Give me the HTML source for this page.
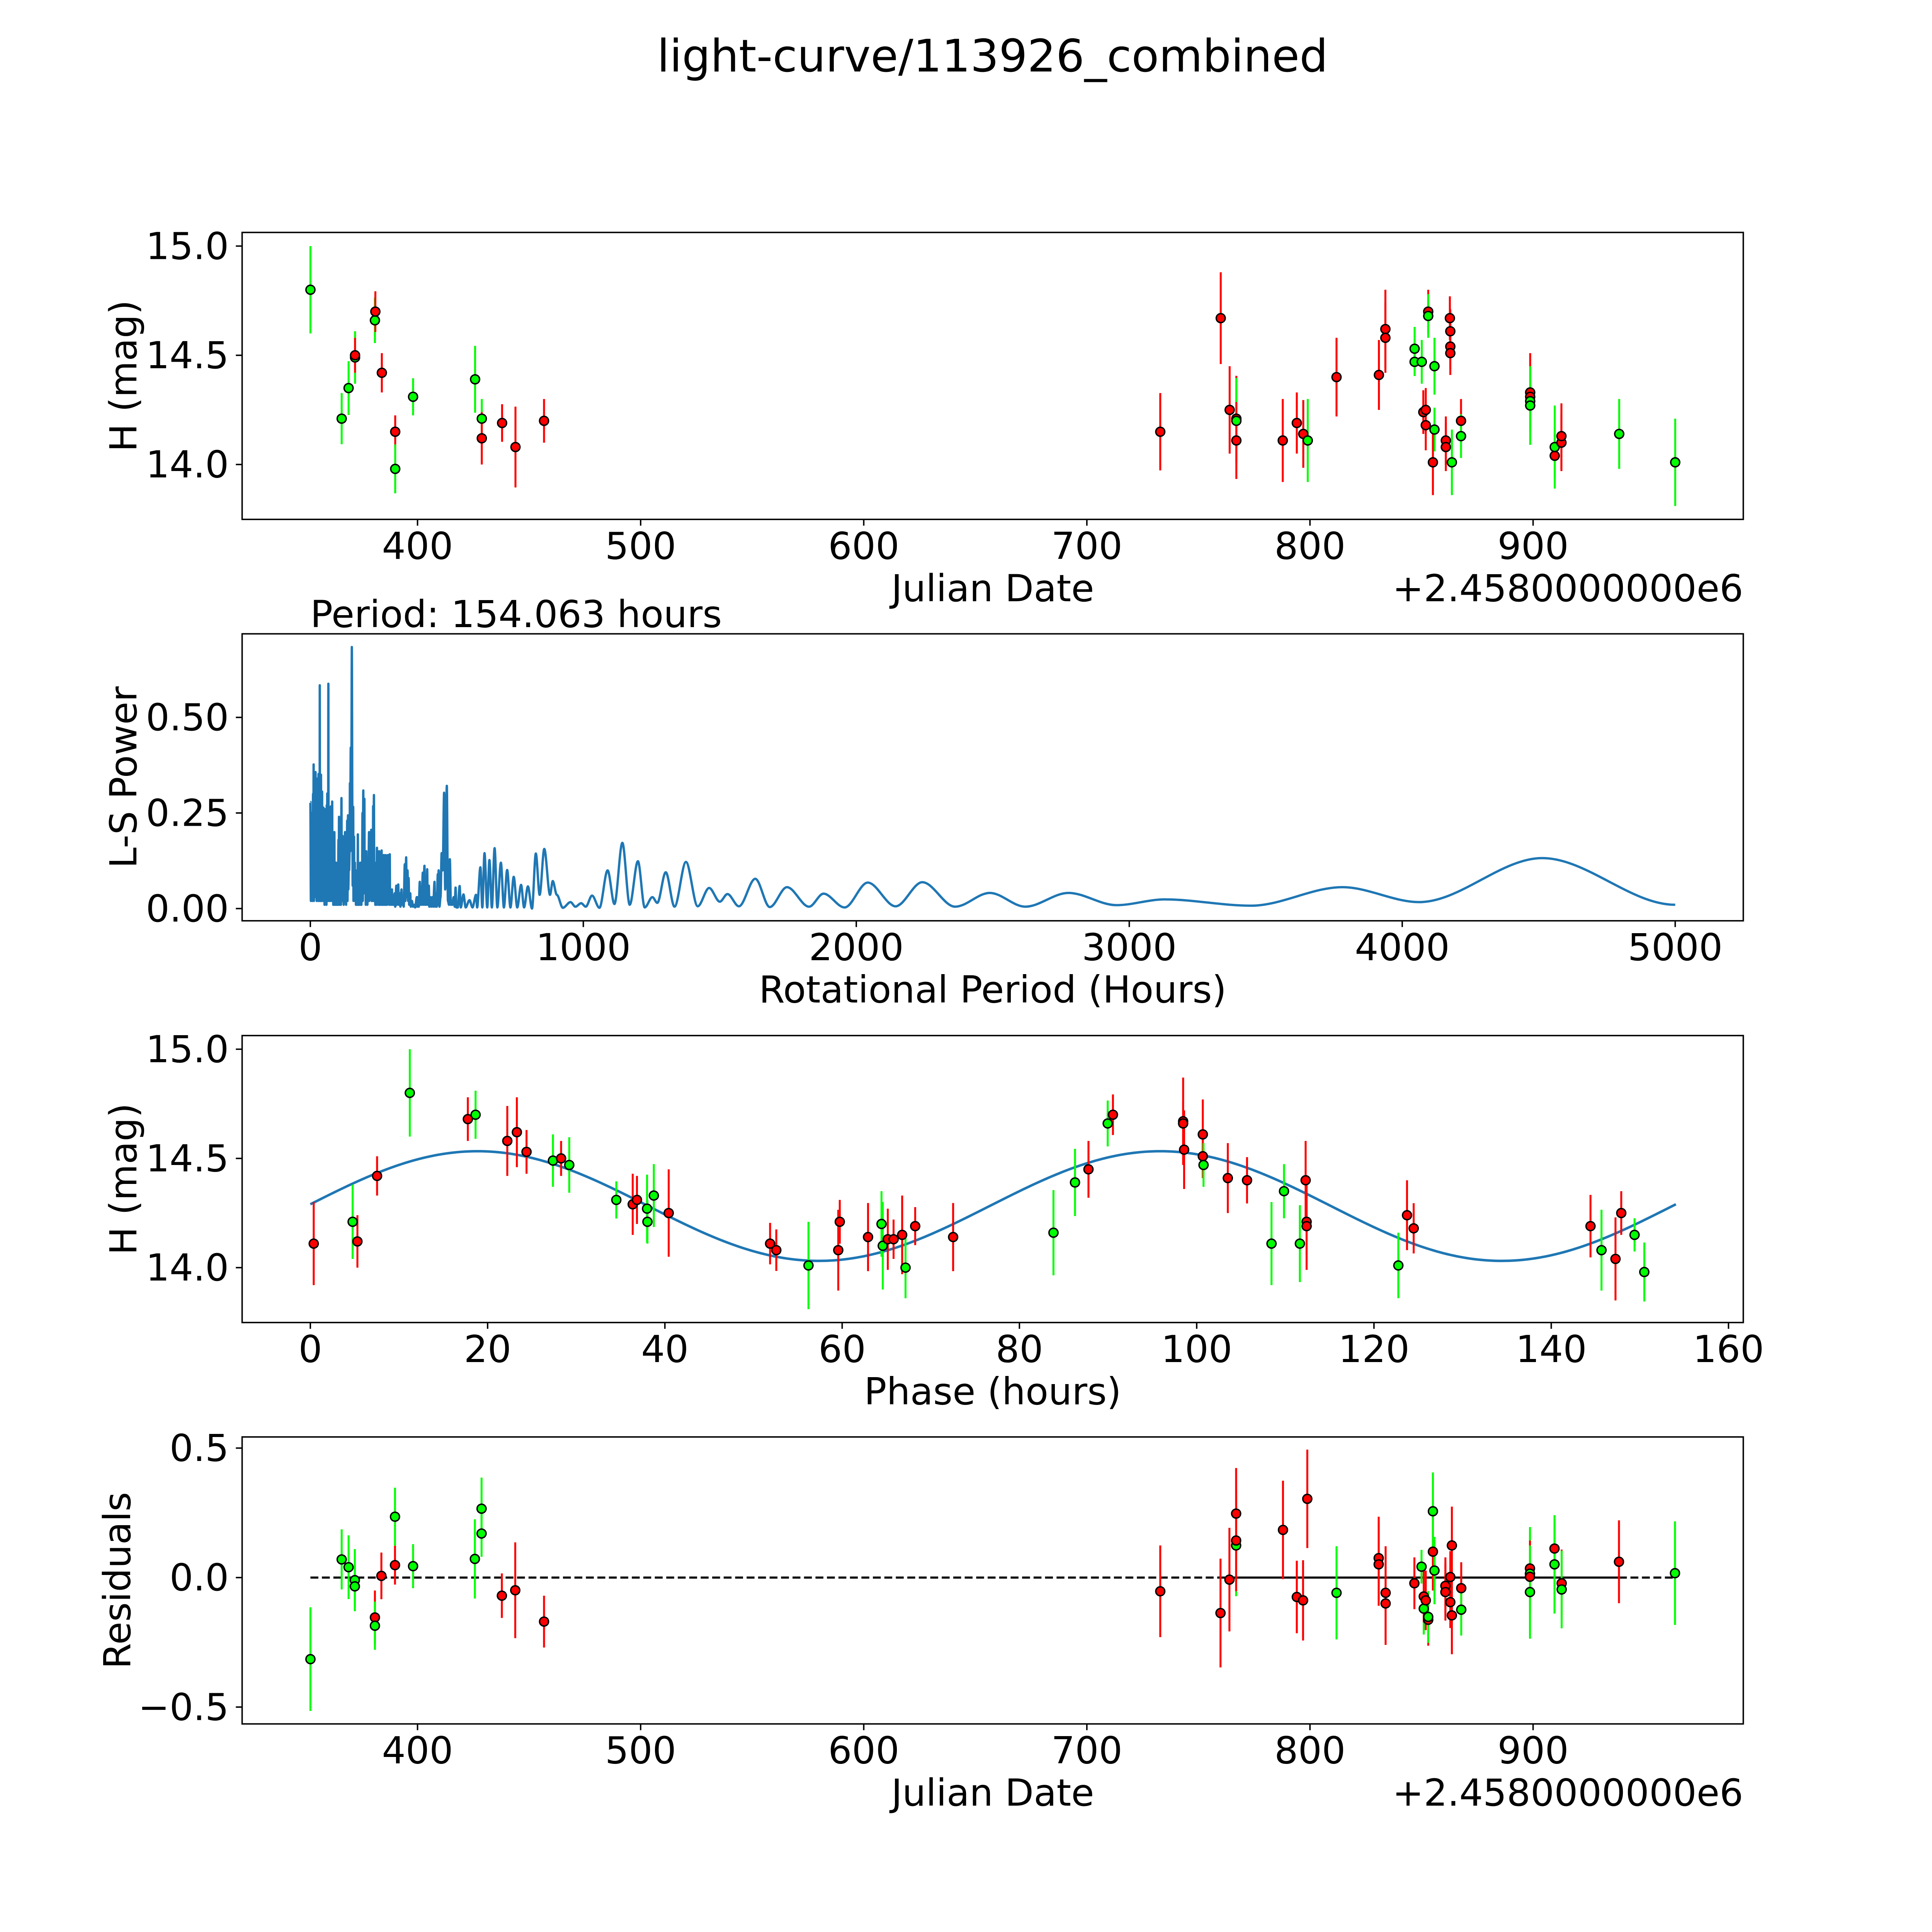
<!DOCTYPE html>
<html><head><meta charset="utf-8"><title>light-curve/113926_combined</title>
<style>html,body{margin:0;padding:0;background:#fff;overflow:hidden}svg{display:block}text{font-family:"DejaVu Sans","Liberation Sans",sans-serif;fill:#000}</style>
</head><body>
<svg id="fig" xmlns="http://www.w3.org/2000/svg" width="5400" height="5400" viewBox="0 0 5817 5817">
<rect width="5817" height="5817" fill="#fff"/>
<text x="2767" y="157" font-size="125" text-anchor="middle" dominant-baseline="central">light-curve/113926_combined</text>
</svg>
<script>
// ---- Panel 1: light curve vs Julian Date ----
const p1Dates=[352.0,366.0,369.1,372.0,372.0,380.9,381.1,384.0,390.0,390.0,398.0,425.8,428.8,428.8,437.9,443.9,456.7,732.9,760.0,764.0,767.0,767.0,767.0,787.8,794.1,797.0,799.0,811.9,830.9,833.8,833.8,846.9,846.9,850.1,853.0,853.0,850.8,851.9,851.9,855.8,855.8,855.1,862.7,862.9,862.9,862.9,860.9,860.9,863.6,867.7,867.7,898.7,898.7,898.7,898.7,909.7,909.7,912.7,912.7,938.6,963.7];
const p1Mags=[14.80,14.21,14.35,14.49,14.50,14.66,14.70,14.42,14.15,13.98,14.31,14.39,14.21,14.12,14.19,14.08,14.20,14.15,14.67,14.25,14.21,14.20,14.11,14.11,14.19,14.14,14.11,14.40,14.41,14.62,14.58,14.53,14.47,14.47,14.70,14.68,14.24,14.25,14.18,14.45,14.16,14.01,14.67,14.61,14.54,14.51,14.11,14.08,14.01,14.20,14.13,14.33,14.31,14.29,14.27,14.04,14.08,14.10,14.13,14.14,14.01];
const p1Errs=[0.20,0.117,0.123,0.12,0.08,0.104,0.093,0.09,0.075,0.112,0.085,0.153,0.09,0.12,0.086,0.185,0.1,0.177,0.21,0.2,0.196,0.196,0.176,0.19,0.14,0.155,0.19,0.18,0.16,0.18,0.16,0.1,0.065,0.1,0.1,0.1,0.1,0.1,0.115,0.13,0.1,0.15,0.1,0.1,0.1,0.1,0.11,0.11,0.15,0.1,0.1,0.18,0.14,0.14,0.18,0.1,0.19,0.13,0.15,0.16,0.2];
const p1Colors="ggggrgrrrgggg rrrrrrrrgrrrrgrrrrggg rgrrrgg rrrrrrrgrgrrggrgrrg".replace(/ /g,"").split("");
// ---- Panel 2: Lomb-Scargle periodogram ----
const lsPeriods=[0,2,4,5,7,8,10,11,12,13,15,16,17,18,19,20,22,23,25,26,28,29,30,31,33,34,34.5,35.5,37,38,39,40,41,42,43,44,46,47,48,49,51,52,53,54,55,56,58,59,60,61,62,63,64,65,66,67,69,70,72,73,75,76,78,79,80,81,83,84,86,87,88,89,91,92,94,95,97,98,100,101,103,104,105,106,108,109,111,112,114,115,116,117,118,119,121,122,124,125,127,128,130,131,132,133,135,136,138,139,141,142,144,145,146,148,150,152,154,155,157,158,160,161,163,164,166,167,169,170,172,173,174,175,177,178,180,181,183,184,186,187,188,189,191,192,194,195,198,199,202,203,205,206,208,209,211,212,215,216,218,219,221,222,223,225,228,229,230,231,233,234,237,238,241,242,244,245,248,249,252,253,256,257,261,262,265,266,269,270,273,274,276,277,280,281,284,285,288,289,291,292,295,296,299,300,303,305,309,311,315,317,319,322,324,328,330,334,336,340,342,346,348,351,353,356,358,360,362,366,368,372,376,380,384,390,392,395,397,401,403,406,408,412,414,418,420,423,425,428,430,434,436,440,443,447,450,455,457,461,463,467,469,470,473,477,481,485,490,494,500,504,508,511,515,520,525,529,532,535,540,547,551,561,569,583,594,607,611,623,630,638,648,656,665,675,685,698,709,721,733,745,758,772,783,797,812,826,840,857,878,888,903,925,953,971,992,1009,1032,1059,1089,1114,1143,1170,1200,1225,1253,1271,1302,1334,1376,1419,1461,1500,1528,1570,1630,1683,1746,1827,1880,1957,2042,2144,2242,2362,2489,2619,2777,2953,3129,3446,3781,4062,4513,5000];
const lsPowers=[.279,.02,.25,.03,.2,.02,.3,.05,.377,.02,.33,.03,.3,.05,.357,.04,.31,.02,.34,.03,.25,.02,.352,.05,.2,.02,.584,.03,.3,.02,.35,.02,.2,.02,.306,.03,.25,.02,.264,.02,.22,.01,.26,.02,.26,.02,.18,.01,.27,.03,.301,.02,.15,.02,.588,.05,.2,.02,.15,.02,.267,.03,.2,.02,.28,.02,.12,.01,.15,.01,.2,.02,.1,.01,.12,.01,.09,.01,.1,.01,.18,.01,.24,.02,.1,.01,.15,.01,.289,.02,.12,.02,.19,.02,.17,.01,.14,.02,.2,.02,.16,.01,.2,.03,.23,.02,.244,.05,.12,.1,.15,.328,.15,.421,.3,.684,.25,.06,.266,.02,.188,.03,.12,.02,.1,.01,.04,.01,.1,.01,.194,.01,.05,.01,.08,.01,.12,.01,.09,.01,.12,.02,.25,.02,.309,.05,.287,.04,.1,.01,.15,.02,.1,.01,.12,.02,.2,.02,.15,.03,.2,.03,.206,.02,.2,.02,.268,.1,.297,.02,.1,.01,.12,.01,.159,.02,.12,.01,.15,.01,.1,.01,.152,.01,.1,.01,.14,.01,.13,.01,.14,.01,.1,.01,.14,.02,.09,.01,.142,.02,.04,.01,.05,.01,.03,.01,.04,.005,.06,.01,.03,.063,.01,.04,.005,.05,.01,.02,.005,.116,.02,.134,.03,.1,.02,.08,.01,.04,.005,.02,.005,.01,.003,.03,.005,.03,.005,.07,.01,.05,.01,.094,.01,.112,.01,.06,.01,.103,.01,.06,.005,.03,.005,.03,.005,.07,.005,.04,.005,.09,.01,.1,.005,.03,.145,.1,.303,.05,.321,.02,.01,.129,.01,.01,.03,.005,.055,.003,.003,.059,.003,.037,.003,.022,.003,.036,.003,.108,.003,.145,.003,.127,.003,.158,.003,.12,.003,.101,.003,.083,.003,.062,.003,.058,0,.144,.036,.156,.036,.072,.036,.002,.017,.005,.014,.005,.034,.002,.1,.012,.172,.01,.124,.003,.03,.015,.095,.005,.122,.006,.054,.018,.038,.006,.078,.004,.056,.005,.039,.003,.068,.006,.069,.005,.041,.005,.041,.009,.024,.0076,.056,.017,.132,.010];
// ---- Panel 3: phase-folded light curve ----
const p3Phases=[0.38,4.77,5.31,7.53,11.22,17.77,18.64,22.22,23.3,24.39,27.37,28.29,29.21,34.52,36.37,36.85,37.99,38.03,38.75,40.43,51.87,52.57,56.2,59.56,59.73,62.92,64.44,64.58,65.15,65.8,66.77,67.15,68.24,72.52,83.84,86.27,87.79,89.96,90.55,98.47,98.47,98.58,100.69,100.69,100.77,103.51,105.68,108.44,109.85,111.64,112.29,112.4,112.4,122.75,123.73,124.48,144.43,145.67,147.25,147.9,149.4,150.5];
const p3Mags=[14.11,14.21,14.12,14.42,14.80,14.68,14.70,14.58,14.62,14.53,14.49,14.50,14.47,14.31,14.29,14.31,14.27,14.21,14.33,14.25,14.11,14.08,14.01,14.08,14.21,14.14,14.20,14.10,14.13,14.13,14.15,14.00,14.19,14.14,14.16,14.39,14.45,14.66,14.70,14.67,14.66,14.54,14.61,14.51,14.47,14.41,14.40,14.11,14.35,14.11,14.40,14.21,14.19,14.01,14.24,14.18,14.19,14.08,14.04,14.25,14.15,13.98];
const p3Errs=[.19,.17,.12,.09,.2,.1,.11,.16,.16,.1,.12,.08,.127,.085,.14,.11,.156,.1,.144,.2,.095,.095,.2,.185,.1,.156,.15,.2,.14,.09,.18,.14,.087,.156,.195,.154,.13,.105,.093,.2,.1,.18,.16,.1,.1,.16,.106,.19,.124,.176,.18,.15,.2,.15,.16,.115,.143,.185,.19,.1,.076,.135];
const p3Colors="rgrrgrgrrrgrgg rrggg r rrgrr rggrrrgrr ggrgr rrrrrgrr gggrr rgr rrgrrg".replace(/ /g,"").split("");
const fitMean=14.282, fitAmp=0.251, fitPeakPhase=18.86, fitCyclePeriod=77.03, foldPeriod=154.063;
// ---- Panel 4: residuals ----
const resDates=[352,366,369.1,371.9,371.9,380.9,380.9,383.8,389.9,389.9,398,425.7,428.7,428.7,437.8,443.8,456.7,732.9,759.9,763.9,766.9,766.9,766.9,787.9,794.1,796.9,798.8,811.9,830.8,830.8,833.9,833.9,846.8,850,851,851,851.9,853,853,855.1,855.1,855.8,860.7,860.7,862.9,862.9,863.6,863.6,867.8,867.8,898.6,898.6,898.6,898.6,909.6,909.6,912.8,912.8,938.5,963.6];
const resValues=[-0.315,0.07,0.04,-0.01,-0.034,-0.154,-0.186,0.0065,0.048,0.235,0.044,0.072,0.17,0.266,-0.07,-0.049,-0.17,-0.053,-0.137,-0.008,0.247,0.124,0.143,0.184,-0.075,-0.088,0.304,-0.059,0.075,0.051,-0.059,-0.1,-0.022,0.042,-0.12,-0.073,-0.088,-0.163,-0.152,0.1,0.256,0.027,-0.032,-0.056,0.002,-0.095,0.124,-0.146,-0.041,-0.124,0.035,0.015,0.003,-0.056,0.112,0.051,-0.022,-0.046,0.061,0.017];
const resErrs=[.2,.116,.123,.12,.08,.104,.093,.09,.075,.112,.085,.153,.09,.12,.086,.185,.1,.177,.21,.2,.176,.196,.196,.19,.14,.155,.19,.18,.16,.16,.18,.16,.1,.065,.1,.1,.115,.1,.1,.15,.15,.13,.11,.11,.1,.1,.15,.15,.1,.1,.14,.18,.14,.18,.1,.19,.13,.15,.16,.2];
const resColors="gggggrgrrgggggrrrr rrrgrrrrrg rrrrrggrrrgrggrrrrrrrgrgrgrgrgrg".replace(/ /g,"").split("");

const x1Ticks=[400,500,600,700,800,900];
const magTicks=[14.0,14.5,15.0];
const magTickLabels=["14.0","14.5","15.0"];
const lsXTicks=[0,1000,2000,3000,4000,5000];
const lsYTicks=[0,0.25,0.5];
const lsYTickLabels=["0.00","0.25","0.50"];
const phaseTicks=[0,20,40,60,80,100,120,140,160];
const resTicks=[-0.5,0,0.5];
const resTickLabels=["\u22120.5","0.0","0.5"];

const NS="http://www.w3.org/2000/svg";
const svg=document.getElementById("fig");
const L=675,R=4860,FS=104;
const COL={g:"#00ff00",r:"#ff0000"};
function mk(tag,attrs,parent){const e=document.createElementNS(NS,tag);for(const k in attrs)e.setAttribute(k,attrs[k]);(parent||svg).appendChild(e);return e;}
function lin(d0,d1,r0,r1){return v=>r0+(v-d0)*(r1-r0)/(d1-d0);}

function frame(name,top,bottom,xs,xt,xtl,ys,yt,ytl,xlabel,ylabel,ylabelX){
  const g=mk("g",{});
  
  
  const box=mk("rect",{x:L,y:top,width:R-L,height:bottom-top,fill:"none",stroke:"#000","stroke-width":4},g);
  
  
  xt.forEach((v,i)=>{const x=xs(v);
    const t=mk("line",{x1:x,x2:x,y1:bottom,y2:bottom+17.5,stroke:"#000","stroke-width":4},g);
    
    
    const tl=mk("text",{x:x,y:bottom+74,"font-size":FS,"text-anchor":"middle","dominant-baseline":"central"},g);
    tl.textContent=xtl[i];
    
    });
  yt.forEach((v,i)=>{const y=ys(v);
    const t=mk("line",{x1:L-17.5,x2:L,y1:y,y2:y,stroke:"#000","stroke-width":4},g);
    
    
    const tl=mk("text",{x:L-37,y:y,"font-size":FS,"text-anchor":"end","dominant-baseline":"central"},g);
    tl.textContent=ytl[i];
    
    });
  const xl=mk("text",{x:(L+R)/2,y:bottom+192,"font-size":FS,"text-anchor":"middle","dominant-baseline":"central"},g);
  xl.textContent=xlabel;
  
  
  const cy=(top+bottom)/2;
  const yl=mk("text",{x:ylabelX,y:cy,"font-size":FS,"text-anchor":"middle","dominant-baseline":"central",transform:`rotate(-90 ${ylabelX} ${cy})`},g);
  yl.textContent=ylabel;
  
  
  return g;
}
function errPoints(name,xsArr,ysArr,esArr,cArr,xs,ys){
  const g=mk("g",{});
  
  
  xsArr.forEach((v,i)=>{const x=xs(v);
    const l=mk("line",{x1:x,x2:x,y1:ys(ysArr[i]+esArr[i]),y2:ys(ysArr[i]-esArr[i]),stroke:COL[cArr[i]]||"#00ff00","stroke-width":5.5},g);
    
    });
  xsArr.forEach((v,i)=>{
    const c=mk("circle",{cx:xs(v),cy:ys(ysArr[i]),r:12.5,fill:COL[cArr[i]]||"#00ff00",stroke:"#000","stroke-width":4},g);
    
    });
}

// Panel 1
const T1=648,B1=1448;
const x1=lin(400,800,1164,3652), y1=lin(15,14,686,1295);
frame("light-curve",T1,B1,x1,x1Ticks,x1Ticks.map(String),y1,magTicks,magTickLabels,"Julian Date","H (mag)",344);
errPoints("light-curve",p1Dates,p1Mags,p1Errs,p1Colors,x1,y1);
const off1=mk("text",{x:R,y:B1+192,"font-size":FS,"text-anchor":"end","dominant-baseline":"central"});
off1.textContent="+2.4580000000e6";



// Panel 2
const T2=1767,B2=2567;
const x2=lin(0,1000,865.2,1626.2), y2=lin(0,0.5,2533,2000);
frame("periodogram",T2,B2,x2,lsXTicks,lsXTicks.map(String),y2,lsYTicks,lsYTickLabels,"Rotational Period (Hours)","L-S Power",344);
let d=`M${x2(lsPeriods[0])},${y2(lsPowers[0])}`;
for(let i=1;i<lsPeriods.length;i++){const xa=x2(lsPeriods[i-1]),xb=x2(lsPeriods[i]),ya=y2(lsPowers[i-1]),yb=y2(lsPowers[i]);
  d+=` C${xa+(xb-xa)/3},${ya} ${xb-(xb-xa)/3},${yb} ${xb},${yb}`;}
const ls=mk("path",{d:d,fill:"none",stroke:"#1f77b4","stroke-width":6.5,"stroke-linejoin":"round"});


const per=mk("text",{x:865,y:1712,"font-size":FS,"dominant-baseline":"central"});
per.textContent="Period: 154.063 hours";



// Panel 3
const T3=2887,B3=3687;
const x3=lin(0,20,865.2,1359.4), y3=lin(15,14,2925,3534);
frame("phase-curve",T3,B3,x3,phaseTicks,phaseTicks.map(String),y3,magTicks,magTickLabels,"Phase (hours)","H (mag)",344);
let md="";
for(let k=0;k<=400;k++){const ph=foldPeriod*k/400;const m=fitMean+fitAmp*Math.cos(2*Math.PI*(ph-fitPeakPhase)/fitCyclePeriod);
  md+=(k?" L":"M")+x3(ph)+","+y3(m);}
const fit=mk("path",{d:md,fill:"none",stroke:"#1f77b4","stroke-width":7});


errPoints("phase-curve",p3Phases,p3Mags,p3Errs,p3Colors,x3,y3);

// Panel 4
const T4=4006,B4=4806;
const x4=x1, y4=lin(0,0.5,4398,4037);
frame("residuals",T4,B4,x4,x1Ticks,x1Ticks.map(String),y4,resTicks,resTickLabels,"Julian Date","Residuals",327);
const zl=mk("line",{x1:x4(Math.min(...resDates)),x2:x4(Math.max(...resDates)),y1:y4(0),y2:y4(0),stroke:"#000","stroke-width":6,"stroke-dasharray":"22 10"});


const zs=mk("line",{x1:x4(764),x2:x4(938.5),y1:y4(0),y2:y4(0),stroke:"#000","stroke-width":6});


errPoints("residuals",resDates,resValues,resErrs,resColors,x4,y4);
const off4=mk("text",{x:R,y:B4+192,"font-size":FS,"text-anchor":"end","dominant-baseline":"central"});
off4.textContent="+2.4580000000e6";


</script>
</body></html>
